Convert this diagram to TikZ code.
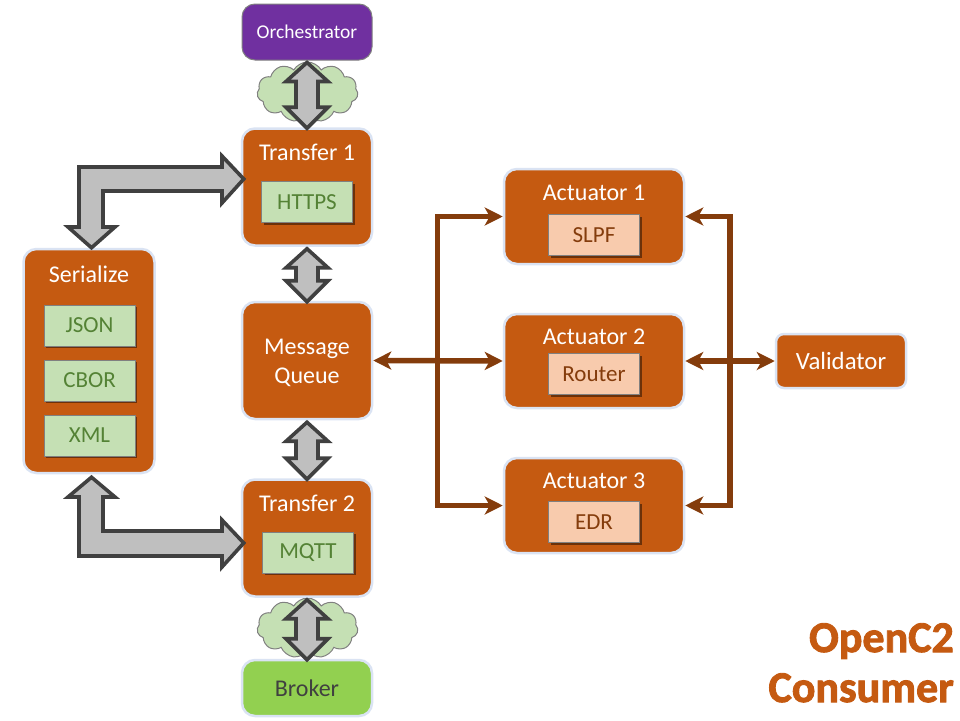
\documentclass[tikz,border=0pt]{standalone}
\usepackage{fontspec}
\setmainfont{Carlito}
\newfontfamily\titlefont[FakeBold=2]{Carlito Bold}
\usetikzlibrary{arrows.meta,shapes.symbols,shadows}

\definecolor{boxorange}{HTML}{C55A11}
\definecolor{boxedge}{HTML}{DAE3F3}
\definecolor{flowbrown}{HTML}{843C0C}
\definecolor{cellgreen}{HTML}{C5E0B4}
\definecolor{celltext}{HTML}{548235}
\definecolor{cellpeach}{HTML}{F8CBAD}
\definecolor{orchpurple}{HTML}{7030A0}
\definecolor{brokergreen}{HTML}{92D050}

\tikzset{
	block/.style={draw=boxedge, line width=2.5pt, fill=boxorange, rounded corners=13pt, text=white, inner sep=0pt, font=\fontsize{24}{28}\selectfont},
	caption/.style={text=white, inner sep=0pt, font=\fontsize{24}{28}\selectfont, align=center},
	cell/.style={draw=gray, line width=0.8pt, fill=cellgreen, text=celltext, inner sep=0pt, minimum width=91pt, minimum height=41pt, font=\fontsize{23}{26}\selectfont, drop shadow={shadow xshift=2pt, shadow yshift=-2pt, fill=black, opacity=0.45}},
	peachcell/.style={cell, fill=cellpeach, text=flowbrown},
	puff/.style={cloud, cloud puffs=11, cloud puff arc=120, aspect=1.7, draw=gray, fill=cellgreen, line width=1pt, minimum width=101pt, minimum height=60pt, inner sep=0pt},
	blockarrow/.style={draw=black!75, line width=3.6pt, fill=black!25, line join=miter},
	flow/.style={draw=flowbrown, line width=5.5pt},
	flowtip/.style={-{Stealth[length=18pt,width=18pt,inset=5pt]}},
	bothtips/.style={{Stealth[length=18pt,width=18pt,inset=5pt]}-{Stealth[length=18pt,width=18pt,inset=5pt]}},
	titletext/.style={anchor=north east, align=right, inner sep=0pt, font=\titlefont\fontsize{44}{50}\selectfont}
}

% double block arrow, top node to bottom node
\newcommand{\updown}[2]{%
	\draw[blockarrow] ([shift={(0,2)}]#1.south) -- ++(21,19) -- ++(-10,0) -- ([shift={(11,-20)}]#2.north) -- ([shift={(21,-20)}]#2.north) -- ([shift={(0,1)}]#2.north)
		-- ([shift={(-21,-20)}]#2.north) -- ([shift={(-11,-20)}]#2.north) -- ([shift={(-11,21)}]#1.south) -- ([shift={(-21,21)}]#1.south) -- cycle;
}

\begin{document}
\begin{tikzpicture}[x=1pt,y=-1pt]
	\useasboundingbox (0,0) rectangle (960,720);

	\node[puff] (cloudtop) at (307.5,92) {}; % clouds stay behind the boxes
	\node[puff] (cloudbottom) at (307.5,628) {};

	\node[block, draw=gray, line width=1pt, fill=orchpurple, minimum width=130pt, minimum height=56pt, font=\fontsize{19.5}{22}\selectfont] (orchestrator) at (307,32) {Orchestrator};
	\node[block, minimum width=130pt, minimum height=117pt] (transfera) at (307,187) {};
	\node[caption] (transferatext) at (307,152) {Transfer 1};
	\node[cell] (https) at (307,202) {HTTPS};
	\node[block, minimum width=130pt, minimum height=117pt] (queue) at (307,360.5) {};
	\node[caption] (queuetext) at (307,362.5) {Message\\[1pt]Queue};
	\node[block, minimum width=130pt, minimum height=117pt] (transferb) at (307,538) {};
	\node[caption] (transferbtext) at (307,503) {Transfer 2};
	\node[cell] (mqtt) at (308,552.5) {MQTT};
	\node[block, fill=brokergreen, text=black!75, minimum width=130pt, minimum height=56pt] (broker) at (307,688) {Broker};

	\node[block, minimum width=131pt, minimum height=224pt] (serialize) at (89,361) {};
	\node[caption] (serializetext) at (89,274) {Serialize};
	\node[cell] (json) at (89.5,325.5) {JSON};
	\node[cell] (cbor) at (89.5,380.5) {CBOR};
	\node[cell] (xml) at (89.5,435.5) {XML};

	\node[block, minimum width=180pt, minimum height=95pt] (actuatora) at (594,216.5) {};
	\node[caption] (actuatoratext) at (594,193) {Actuator 1};
	\node[peachcell] (slpf) at (594,235) {SLPF};
	\node[block, minimum width=180pt, minimum height=94pt] (actuatorb) at (594,361) {};
	\node[caption] (actuatorbtext) at (594,337) {Actuator 2};
	\node[peachcell] (router) at (594,374) {Router};
	\node[block, minimum width=180pt, minimum height=95pt] (actuatorc) at (594,505.5) {};
	\node[caption] (actuatorctext) at (594,481) {Actuator 3};
	\node[peachcell] (edr) at (594,522) {EDR};

	\node[block, rounded corners=8pt, minimum width=130pt, minimum height=54pt, font=\fontsize{24.8}{28}\selectfont] (validator) at (841,361) {Validator};

	\updown{orchestrator}{transfera}
	\updown{transfera}{queue}
	\updown{queue}{transferb}
	\updown{transferb}{broker}

	% bent block arrows to serialize
	\draw[blockarrow] ([shift={(3,-8)}]transfera.west) -- (222,156) -- (222,167) -- (79,167) -- (79,227) -- (68,227) -- ([shift={(2.5,0)}]serialize.north) -- (115,227) -- (103,227) -- (103,191) -- (222,191) -- (222,203) -- cycle;
	\draw[blockarrow] ([shift={(3,5)}]transferb.west) -- (222,520) -- (222,531) -- (103,531) -- (103,497) -- (115,497) -- ([shift={(2.5,3)}]serialize.south) -- (68,497) -- (79,497) -- (79,556) -- (222,556) -- (222,567) -- cycle;

	\coordinate (busleft) at (437.5,361);
	\coordinate (busright) at (730,361);
	\draw[flow, flowtip] (busleft) |- (actuatora.west);
	\draw[flow, flowtip] (busleft) |- (actuatorc.west);
	\draw[flow, bothtips] (queue.east) -- (actuatorb.west);
	\draw[flow, flowtip] (busright) |- (actuatora.east);
	\draw[flow, flowtip] (busright) |- (actuatorc.east);
	\draw[flow, bothtips] (validator.west) -- (actuatorb.east);

	\node[titletext, text=boxorange] (title) at (954,623) {OpenC2\\Consumer};
\end{tikzpicture}
\end{document}
